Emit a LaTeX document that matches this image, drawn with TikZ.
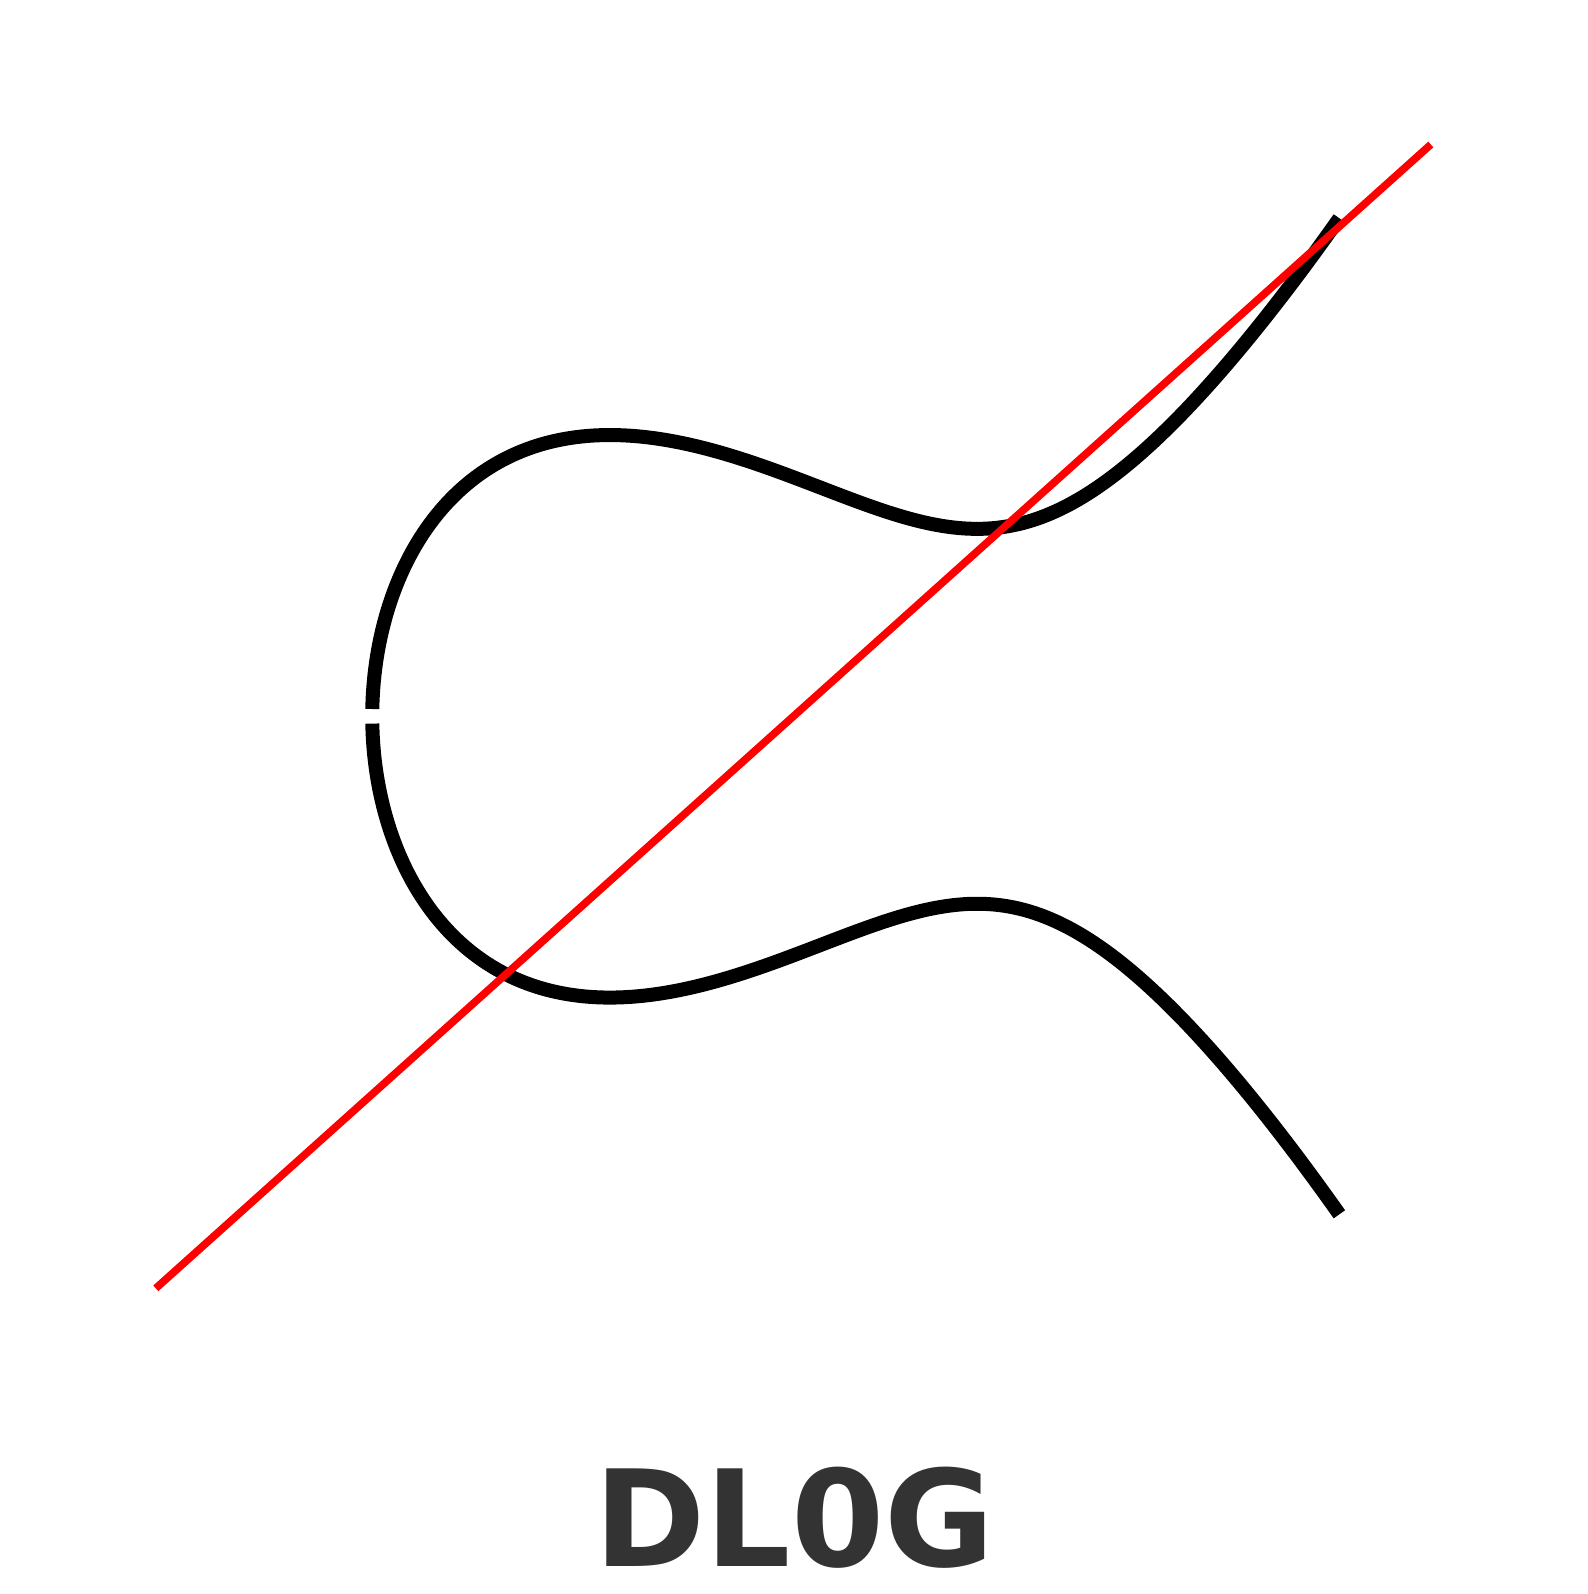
\documentclass[tikz,border=0pt]{standalone}
\usepackage{fontspec}
\setmainfont{DejaVu Sans}
\definecolor{labelgray}{HTML}{333333}
\begin{document}
\begin{tikzpicture}[x=0.5pt,y=-0.5pt,
  curvestyle/.style={line width=7pt, black, line cap=butt},
  linestyle/.style={line width=3.8pt, red, line cap=butt},
  labelstyle/.style={text=labelgray, font=\bfseries\fontsize{67}{80}\selectfont, inner sep=0pt, anchor=base},
  declare function={xx(\t)=-1.324718+\t*\t; yy(\t)=\t*sqrt(xx(\t)*(xx(\t)-1.324718)+0.754878);}]
\useasboundingbox (0,0) rectangle (1587,1594);
% upper branch
\draw[curvestyle] plot[domain=0.0148:1.7449, samples=300, variable=\t]
  ({793.5+318*xx(\t)}, {716.3-239*yy(\t)});
% lower branch
\draw[curvestyle] plot[domain=0.0148:1.7449, samples=300, variable=\t]
  ({793.5+318*xx(\t)}, {716.3+239*yy(\t)});
% secant line
\coordinate (la) at (155.8,1288.3);
\coordinate (lb) at (1430.8,144.5);
\draw[linestyle] (la) -- (lb);
\node[labelstyle] (title) at (794.5,1566) {DL0G};
\end{tikzpicture}
\end{document}
